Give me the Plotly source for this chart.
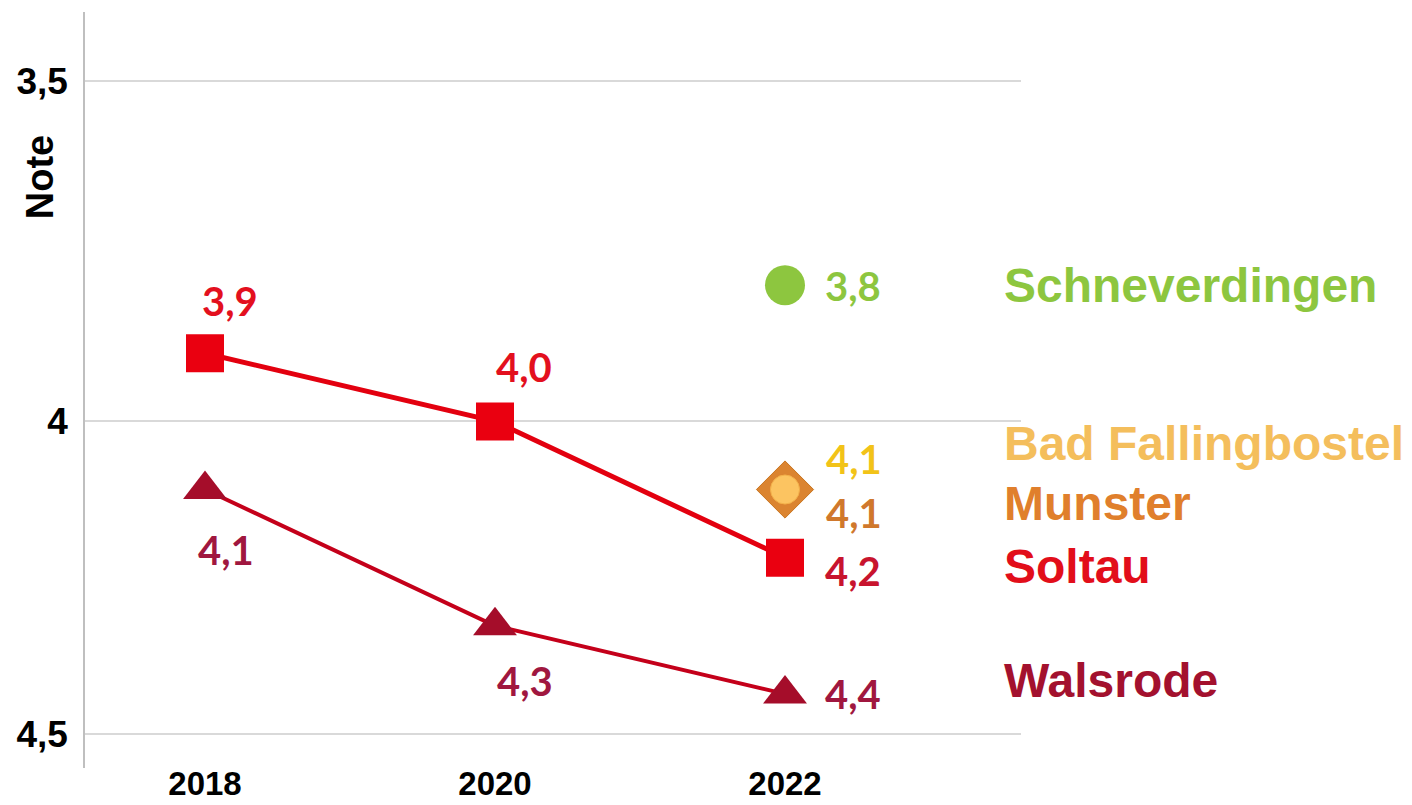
import plotly.graph_objects as go

# ---- data ----
years = [2018, 2020, 2022]
soltau = [3.9, 4.0, 4.2]
walsrode = [4.1, 4.3, 4.4]
schneverdingen_year = [2022]
schneverdingen = [3.8]
bad_fallingbostel_year = [2022]
bad_fallingbostel = [4.1]
munster_year = [2022]
munster = [4.1]
ytick_vals = [3.5, 4.0, 4.459]
ytick_text = ["3,5", "4", "4,5"]
xtick_text = ["2018", "2020", "2022"]

def fmt(v):
    return f"{v:.1f}".replace(".", ",")

# ---- styles ----
SOLTAU = "#EA0010"
SOLTAU_LINE = "#E3000F"
WALS_LINE = "#C4001A"
WALS_MARK = "#A50D2A"
GREEN = "#8DC63F"
DIAMOND = "#DB8430"
CIRCLE_Y = "#FCC461"

LABEL_FONT = "Lato"
AX_FONT = "Liberation Sans, Arial"
K = 1.0

fig = go.Figure()

fig.add_trace(go.Scatter(
    x=years, y=walsrode, mode="lines+markers",
    line=dict(color=WALS_LINE, width=4),
    marker=dict(symbol="triangle-up", size=38, color=WALS_MARK),
    showlegend=False, hoverinfo="skip"))

fig.add_trace(go.Scatter(
    x=years, y=soltau, mode="lines+markers",
    line=dict(color=SOLTAU_LINE, width=5),
    marker=dict(symbol="square", size=38, color=SOLTAU),
    showlegend=False, hoverinfo="skip"))

fig.add_trace(go.Scatter(
    x=munster_year, y=munster, mode="markers",
    marker=dict(symbol="diamond", size=44, color=DIAMOND,
                line=dict(color="#C8741F", width=1)),
    showlegend=False, hoverinfo="skip"))

fig.add_trace(go.Scatter(
    x=bad_fallingbostel_year, y=bad_fallingbostel, mode="markers",
    marker=dict(symbol="circle", size=29, color=CIRCLE_Y,
                line=dict(color="#F3B04A", width=1)),
    showlegend=False, hoverinfo="skip"))

fig.add_trace(go.Scatter(
    x=schneverdingen_year, y=schneverdingen, mode="markers",
    marker=dict(symbol="circle", size=40, color=GREEN),
    showlegend=False, hoverinfo="skip"))

annotations = []

def label(x, y, text, color, dx, dy, size=40):
    annotations.append(dict(
        x=x, y=y, xref="x", yref="y", text=f"<b>{text}</b>",
        showarrow=False, xshift=dx, yshift=dy * K,
        font=dict(family=LABEL_FONT, size=size, color=color),
        xanchor="center", yanchor="middle"))

# Soltau labels
s_colors = ["#E3101E", "#E3101E", "#C8142E"]
s_offsets = [(25, 52), (29, 54), (68, -13)]
for xv, yv, c, (dx, dy) in zip(years, soltau, s_colors, s_offsets):
    label(xv, yv, fmt(yv), c, dx, dy)

# Walsrode labels
w_offsets = [(21, -60), (30, -55), (68, 0)]
for xv, yv, (dx, dy) in zip(years, walsrode, w_offsets):
    label(xv, yv, fmt(yv), "#A0173F", dx, dy)

label(schneverdingen_year[0], schneverdingen[0], fmt(schneverdingen[0]), GREEN, 68, -1)
label(bad_fallingbostel_year[0], bad_fallingbostel[0], fmt(bad_fallingbostel[0]), "#F2C318", 69, 31)
label(munster_year[0], munster[0], fmt(munster[0]), "#D0782C", 69, -23)

# Legend-like names at right
names = [
    ("Schneverdingen", GREEN, 3.80),
    ("Bad Fallingbostel", "#F4BE5C", 4.033),
    ("Munster", "#E07F2C", 4.121),
    ("Soltau", "#E20E1A", 4.213),
    ("Walsrode", "#A3112E", 4.381),
]
for txt, col, yv in names:
    annotations.append(dict(
        x=0.980, y=yv, xref="paper", yref="y", text=f"<b>{txt}</b>",
        showarrow=False, xanchor="left", yanchor="middle",
        font=dict(family=AX_FONT, size=48, color=col)))

# Axis title "Note"
annotations.append(dict(
    x=-0.048, y=3.6415, xref="paper", yref="y", text="<b>Note</b>",
    showarrow=False, textangle=-90, xanchor="center", yanchor="middle",
    font=dict(family=AX_FONT, size=38, color="#000000")))

fig.update_layout(
    width=1412, height=825, autosize=False,
    margin=dict(l=85, r=391, t=12, b=57),
    paper_bgcolor="white", plot_bgcolor="white",
    annotations=annotations,
    xaxis=dict(
        range=[2017.1724, 2023.6276],
        tickmode="array", tickvals=years, ticktext=[f"<b>{t}</b>" for t in xtick_text],
        tickfont=dict(family=AX_FONT, size=33, color="#000000"),
        showgrid=False, zeroline=False, showline=False, ticks="",
        ticklabelstandoff=-7),
    yaxis=dict(
        range=[4.5088, 3.399],
        tickmode="array", tickvals=ytick_vals, ticktext=[f"<b>{t}</b>" for t in ytick_text],
        tickfont=dict(family=AX_FONT, size=37, color="#000000"),
        showgrid=True, gridcolor="#D9D9D9", gridwidth=1.5,
        zeroline=False, showline=True, linecolor="#BFBFBF", linewidth=1.5,
        ticks="", ticklabelstandoff=8),
)

fig.write_html(
    "out.html",
    config={"displayModeBar": False},
    post_script="document.body.style.margin='0px';document.body.style.overflow='hidden';",
)
